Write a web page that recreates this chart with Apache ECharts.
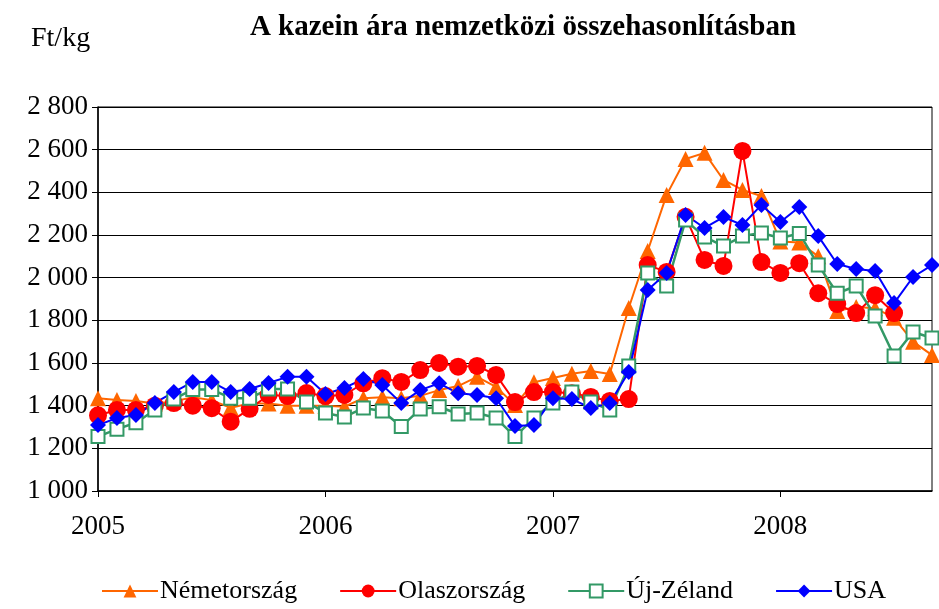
<!DOCTYPE html>
<html>
<head>
<meta charset="utf-8">
<script src="https://cdn.jsdelivr.net/npm/echarts@6/dist/echarts.min.js"></script>
<style>html,body{margin:0;padding:0;background:#fff}#c{width:939px;height:609px}</style>
</head>
<body>
<div id="c"></div>
<script>
// Months Jan 2005 .. Sep 2008
const categories = [];
for (let y = 2005; y <= 2008; y++) {
  for (let m = 1; m <= 12; m++) {
    if (y === 2008 && m > 9) break;
    categories.push(y + '.' + String(m).padStart(2, '0'));
  }
}
const nemetorszag = [1435,1427,1422,1410,1420,1440,1425,1390,1410,1410,1400,1400,
  1400,1395,1435,1440,1435,1446,1473,1492,1535,1488,1403,1510,
  1530,1550,1563,1548,1858,2125,2388,2556,2585,2458,2411,2383,
  2170,2165,2100,1844,1863,1857,1812,1700,1637];
const olaszorszag = [1355,1380,1380,1400,1412,1400,1388,1325,1385,1450,1445,1459,
  1445,1450,1505,1529,1511,1567,1600,1583,1586,1544,1417,1464,
  1464,1458,1441,1422,1431,2059,2027,2285,2083,2055,2594,2073,
  2022,2068,1927,1876,1834,1918,1834,null,null];
const ujZeland = [1255,1290,1320,1380,1431,1476,1476,1435,1435,1478,1478,1417,
  1366,1347,1389,1375,1302,1384,1395,1361,1366,1342,1255,1342,
  1413,1464,1417,1380,1586,2022,1961,2270,2191,2148,2195,2209,
  2186,2207,2059,1927,1961,1820,1633,1745,1717];
const usa = [1309,1342,1356,1413,1464,1511,1511,1464,1478,1506,1535,1535,
  1455,1483,1525,1497,1412,1473,1505,1458,1450,1435,1305,1309,
  1435,1431,1389,1412,1558,1942,2022,2294,2233,2284,2247,2341,
  2261,2331,2195,2064,2041,2031,1881,2003,2059];
const yTicks = { min: 1000, max: 2800, step: 200 };

const FONT = '"Liberation Serif", "Times New Roman", serif';
const chart = echarts.init(document.getElementById('c'));
function fmt(v) { return String(v).replace(/\B(?=(\d{3})+(?!\d))/g, ' '); }
chart.setOption({
  animation: false,
  backgroundColor: '#fff',
  title: [
    { text: 'A kazein ára nemzetközi összehasonlításban', left: 518, top: 8, textAlign: 'center',
      textStyle: { fontFamily: FONT, fontSize: 29, fontWeight: 'bold', color: '#000' } },
    { text: 'Ft/kg', left: 26, top: 20,
      textStyle: { fontFamily: FONT, fontSize: 28, fontWeight: 'normal', color: '#000' } }
  ],
  legend: {
    bottom: 0, left: 96, itemWidth: 56, itemHeight: 16, itemGap: 42,
    textStyle: { fontFamily: FONT, fontSize: 26, color: '#000', padding: [0, 0, 0, -3] },
    data: ['Németország', 'Olaszország', 'Új-Zéland', 'USA']
  },
  grid: { left: 98, right: 7, top: 107, bottom: 118, show: true, borderColor: '#000', borderWidth: 1 },
  xAxis: {
    type: 'category', data: categories, boundaryGap: false,
    axisLine: { lineStyle: { color: '#000', width: 1.5 } },
    axisTick: { show: true, interval: (i) => i % 12 === 0, length: 6, lineStyle: { color: '#000' } },
    axisLabel: { interval: (i) => i % 12 === 0, formatter: (v) => v.slice(0, 4), margin: 22,
      fontFamily: FONT, fontSize: 27, color: '#000' },
    splitLine: { show: false }
  },
  yAxis: {
    type: 'value', min: yTicks.min, max: yTicks.max, interval: yTicks.step,
    axisLine: { show: true, lineStyle: { color: '#000', width: 1.5 } },
    axisTick: { show: true, length: 6, lineStyle: { color: '#000' } },
    axisLabel: { formatter: fmt, margin: 10, fontFamily: FONT, fontSize: 27, color: '#000' },
    splitLine: { lineStyle: { color: '#000', width: 1 } }
  },
  series: [
    { name: 'Németország', type: 'line', data: nemetorszag, symbol: 'triangle', symbolSize: 16,
      showAllSymbol: true,
      itemStyle: { color: '#FF6600' }, lineStyle: { color: '#FF6600', width: 2 } },
    { name: 'Olaszország', type: 'line', data: olaszorszag, symbol: 'circle', symbolSize: 18,
      showAllSymbol: true,
      itemStyle: { color: '#FF0000' }, lineStyle: { color: '#FF0000', width: 2 } },
    { name: 'Új-Zéland', type: 'line', data: ujZeland, symbol: 'rect', symbolSize: 13,
      showAllSymbol: true,
      itemStyle: { color: '#FFFFFF', borderColor: '#339966', borderWidth: 2 },
      lineStyle: { color: '#339966', width: 2.5 } },
    { name: 'USA', type: 'line', data: usa, symbol: 'diamond', symbolSize: 16,
      showAllSymbol: true,
      itemStyle: { color: '#0000FF' }, lineStyle: { color: '#0000FF', width: 2 } }
  ]
});
</script>
</body>
</html>
